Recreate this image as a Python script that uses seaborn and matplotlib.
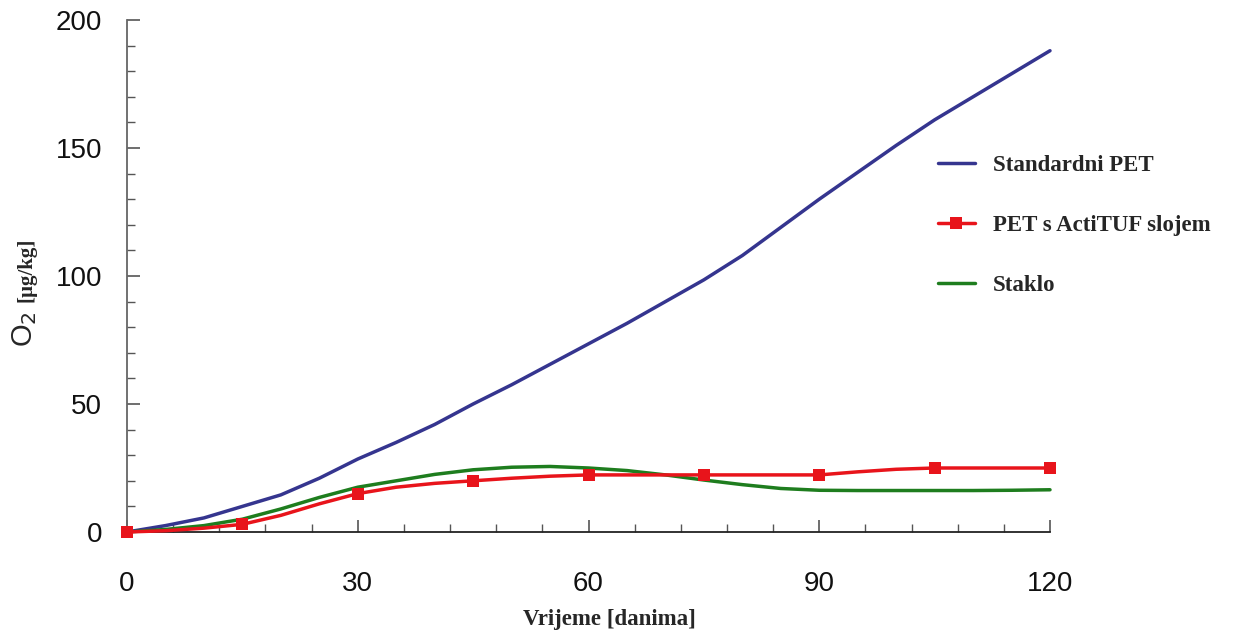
import numpy as np
import pandas as pd
import seaborn as sns
import matplotlib.pyplot as plt
from matplotlib.ticker import MultipleLocator

# values, every 5 days
days = [0, 5, 10, 15, 20, 25, 30, 35, 40, 45, 50, 55, 60,
        65, 70, 75, 80, 85, 90, 95, 100, 105, 110, 115, 120]
standardni_pet = [0, 2.5, 5.5, 10, 14.5, 21, 28.5, 35, 42, 50, 57.5, 65.5, 73.5,
                  81.5, 90, 98.5, 108, 119, 130, 140.5, 151, 161, 170, 179, 188]
pet_actituf = [0, 0.5, 1.5, 3, 6.5, 11, 15, 17.5, 19, 20, 21, 21.8, 22.3,
               22.3, 22.3, 22.3, 22.3, 22.3, 22.3, 23.5, 24.5, 25, 25, 25, 25]
staklo = [0, 1, 2.5, 5, 9, 13.5, 17.5, 20, 22.5, 24.3, 25.3, 25.6, 25,
          24, 22.3, 20.3, 18.5, 17, 16.3, 16.2, 16.2, 16.2, 16.2, 16.3, 16.5]

labels = ['Standardni PET', 'PET s ActiTUF slojem', 'Staklo']
colors = ['#35358f', '#e8141b', '#1e7d1e']

df = pd.DataFrame({'dan': days, labels[0]: standardni_pet,
                   labels[1]: pet_actituf, labels[2]: staklo})

sns.set_style('ticks')
plt.rcParams['font.family'] = ['Liberation Sans', 'DejaVu Sans']

fig = plt.figure(figsize=(12.36, 6.37), dpi=100)
ax = fig.add_axes([127 / 1236, 1 - 532 / 637, 923 / 1236, 512 / 637])

sns.lineplot(data=df, x='dan', y=labels[0], ax=ax, color=colors[0], lw=2.5,
             label=labels[0], clip_on=False)
sns.lineplot(data=df, x='dan', y=labels[1], ax=ax, color=colors[1], lw=2.5,
             marker='s', markersize=9, markevery=3, markeredgewidth=0,
             label=labels[1], clip_on=False)
sns.lineplot(data=df, x='dan', y=labels[2], ax=ax, color=colors[2], lw=2.5,
             label=labels[2], clip_on=False)
ax.lines[1].set_zorder(3)

ax.set_xlim(0, 120)
ax.set_ylim(0, 200)
ax.xaxis.set_major_locator(MultipleLocator(30))
ax.xaxis.set_minor_locator(MultipleLocator(6))
ax.yaxis.set_major_locator(MultipleLocator(50))
ax.yaxis.set_minor_locator(MultipleLocator(10))
ax.tick_params(which='both', direction='in', colors='#555555', labelcolor='#111111',
               labelsize=20)
ax.tick_params(which='major', length=9, width=1.2)
ax.tick_params(which='minor', length=6, width=1.0)
ax.tick_params(axis='x', pad=28)
ax.tick_params(axis='y', pad=18)
for s in ['top', 'right']:
    ax.spines[s].set_visible(False)
ax.spines['left'].set_color('#666666')
ax.spines['bottom'].set_color('#222222')
ax.spines['left'].set_linewidth(1.3)
ax.spines['bottom'].set_linewidth(1.3)

ax.set_xlabel('')
ax.set_ylabel('')
fig.text(609 / 1236, 1 - 619 / 637, 'Vrijeme [danima]', ha='center', va='center',
         family='Liberation Serif', weight='bold', fontsize=16.5)
fig.text(25 / 1236, 1 - 347 / 637, 'O$_2$', rotation=90, ha='center', va='bottom',
         family='Liberation Sans', fontsize=21)
fig.text(27 / 1236, 1 - 302 / 637, '[µg/kg]', rotation=90, ha='center', va='bottom',
         family='Liberation Serif', weight='bold', fontsize=15)

ax.legend(loc='upper left', bbox_to_anchor=(938 / 1236, 1 - 155 / 637),
          bbox_transform=fig.transFigure, frameon=False, borderpad=0,
          borderaxespad=0, handlelength=1.6, handletextpad=0.8, labelspacing=1.7,
          prop={'family': 'Liberation Serif', 'weight': 'bold', 'size': 16.5})

fig.savefig('out.png', dpi=100)
